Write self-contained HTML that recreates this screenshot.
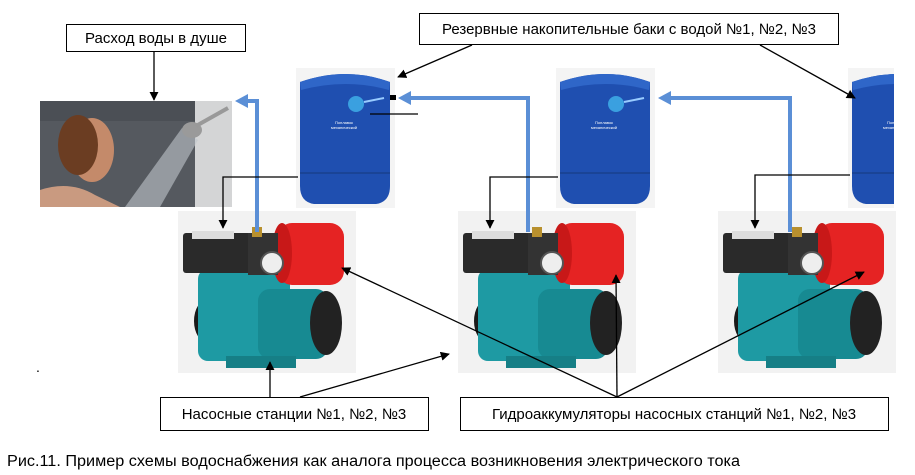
<!DOCTYPE html>
<html><head><meta charset="utf-8"><style>
html,body{margin:0;padding:0;background:#fff;width:915px;height:475px;overflow:hidden}
svg{display:block}
text{font-family:"Liberation Sans","DejaVu Sans",sans-serif;fill:#000}
</style></head><body>
<svg width="915" height="475" viewBox="0 0 915 475" xmlns="http://www.w3.org/2000/svg">
<defs>
<marker id="ah" viewBox="0 0 10 10" refX="9" refY="5" markerWidth="7" markerHeight="7" orient="auto-start-reverse"><path d="M0,0 L10,5 L0,10 z" fill="#000"/></marker>
<clipPath id="c3"><rect x="0" y="0" width="46" height="150"/></clipPath>
<g id="pump">
<rect x="0" y="0" width="178" height="162" fill="#f2f2f2"/>
<ellipse cx="30" cy="110" rx="14" ry="22" fill="#1a1a1a"/>
<rect x="20" y="58" width="92" height="92" rx="10" fill="#1e9aa3"/>
<rect x="80" y="78" width="70" height="70" rx="12" fill="#178a92"/>
<ellipse cx="148" cy="112" rx="16" ry="32" fill="#222"/>
<rect x="48" y="145" width="70" height="12" fill="#167f86"/>
<rect x="100" y="12" width="66" height="62" rx="14" fill="#e52323"/>
<ellipse cx="104" cy="42" rx="10" ry="30" fill="#c81818"/>
<rect x="5" y="22" width="80" height="40" rx="3" fill="#2a2a2a"/>
<rect x="14" y="20" width="42" height="8" fill="#ddd"/>
<rect x="70" y="22" width="30" height="42" fill="#333"/>
<rect x="74" y="16" width="10" height="10" fill="#b8902e"/>
<circle cx="94" cy="52" r="11" fill="#eee" stroke="#555" stroke-width="2"/>
</g>
<g id="tank">
<rect x="0" y="0" width="99" height="140" fill="#f4f4f4"/>
<path d="M4,14 Q50,-2 94,14 L94,118 Q94,134 80,136 L18,136 Q4,134 4,118 Z" fill="#1f4fb0"/>
<path d="M4,14 Q50,-2 94,14 L93,22 Q50,10 5,22 Z" fill="#2f66c8"/>
<path d="M4,105 L94,105" stroke="#1a4496" stroke-width="2"/>
<circle cx="60" cy="36" r="8" fill="#3aa0e0"/>
<path d="M68,34 L88,30" stroke="#9cf" stroke-width="2"/>
<text x="48" y="56" font-size="4" style="fill:#fff" text-anchor="middle">Поплавок</text>
<text x="48" y="61" font-size="4" style="fill:#fff" text-anchor="middle">механический</text>
</g>
</defs>

<!-- shower photo -->
<rect x="40" y="101" width="192" height="106" fill="#55595f"/>
<rect x="40" y="101" width="192" height="20" fill="#4b4f55"/>
<rect x="195" y="101" width="37" height="106" fill="#d4d5d6"/>
<path d="M40,207 L40,190 Q70,180 95,195 L120,207 Z" fill="#c99a80"/>
<ellipse cx="92" cy="150" rx="22" ry="32" fill="#c48a6a"/>
<ellipse cx="78" cy="145" rx="20" ry="30" fill="#6b3d22"/>
<path d="M125,207 L182,128 L198,140 L160,207 Z" fill="#c0c6cc" opacity="0.6"/>
<ellipse cx="192" cy="130" rx="10" ry="8" fill="#9a9a9a"/>
<path d="M196,126 L228,108" stroke="#999" stroke-width="4"/>

<!-- tanks -->
<use href="#tank" x="296" y="68"/>
<use href="#tank" x="556" y="68"/>
<g transform="translate(848,68)"><use href="#tank" clip-path="url(#c3)"/></g>

<!-- pumps -->
<use href="#pump" x="178" y="211"/>
<use href="#pump" x="458" y="211"/>
<use href="#pump" x="718" y="211"/>

<!-- blue pipes -->
<g stroke="#5b8fd6" stroke-width="4" fill="none">
<path d="M257,232 V101 H246"/>
<path d="M528,232 V98 H410"/>
<path d="M790,232 V98 H670"/>
</g>
<g fill="#5b8fd6">
<polygon points="235,101 248,94 248,108"/>
<polygon points="398,98 411,91 411,105"/>
<polygon points="658,98 671,91 671,105"/>
</g>
<rect x="390" y="95" width="6" height="5" fill="#000"/>

<!-- black connectors -->
<g stroke="#000" stroke-width="1.3" fill="none">
<path d="M154,51 V100" marker-end="url(#ah)"/>
<path d="M472,45 L398,77" marker-end="url(#ah)"/>
<path d="M760,45 L855,98" marker-end="url(#ah)"/>
<path d="M298,177 H223 V228" marker-end="url(#ah)"/>
<path d="M558,177 H490 V228" marker-end="url(#ah)"/>
<path d="M850,175 H755 V228" marker-end="url(#ah)"/>
<path d="M370,114 H418"/>
<path d="M270,397 V362" marker-end="url(#ah)"/>
<path d="M300,397 L449,354" marker-end="url(#ah)"/>
<path d="M617,397 L342,268" marker-end="url(#ah)"/>
<path d="M617,397 L616,275" marker-end="url(#ah)"/>
<path d="M617,397 L864,272" marker-end="url(#ah)"/>
</g>

<!-- label boxes -->
<rect x="66.5" y="24.5" width="179" height="27" fill="#fff" stroke="#000"/>
<text x="156" y="43" font-size="15" text-anchor="middle">Расход воды в душе</text>
<rect x="419.5" y="13.5" width="419" height="31" fill="#fff" stroke="#000"/>
<text x="629" y="34" font-size="15" text-anchor="middle">Резервные накопительные баки с водой №1, №2, №3</text>
<rect x="160.5" y="397.5" width="268" height="33" fill="#fff" stroke="#000"/>
<text x="294" y="419" font-size="15" text-anchor="middle">Насосные станции №1, №2, №3</text>
<rect x="460.5" y="397.5" width="428" height="33" fill="#fff" stroke="#000"/>
<text x="674" y="419" font-size="15" text-anchor="middle">Гидроаккумуляторы насосных станций №1, №2, №3</text>

<text x="36" y="372" font-size="14">.</text>
<text x="7" y="466" font-size="15.5" textLength="733" lengthAdjust="spacingAndGlyphs">Рис.11.  Пример схемы водоснабжения как аналога процесса возникновения электрического тока</text>
</svg>
</body></html>
